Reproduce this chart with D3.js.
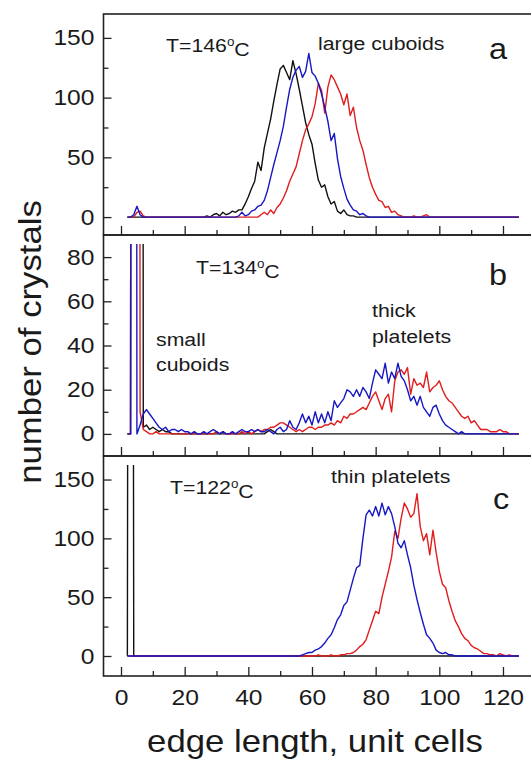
<!DOCTYPE html>
<html>
<head>
<meta charset="utf-8">
<script src="https://cdn.jsdelivr.net/npm/d3@7"></script>
<style>
  body { margin: 0; background: #fff; }
  svg { display: block; }
  text { font-family: "Liberation Sans", Arial, sans-serif; fill: #1a1a1a; }
</style>
</head>
<body>
<svg id="chart" width="531" height="761"></svg>
<script>
// ---- data: counts per edge length bin (x = 2..125), zero outside the listed run ----
const OFF = 2000; // spikes that run off the top of the plot

// panel a, T=146 C
const aBlackFrom = 26;
const aBlack = [0,1,0,2,3,1,4,2,3,5,4,6,6,11,17,24,30,46,39,58,70,82,97,111,124,127,121,115,131,120,
  107,93,79,69,61,45,31,25,27,17,11,13,5,3,6,2,1,1,0];
const aRedFrom = 4;
const aRed = [0,4,5,1,0,0,0,0,0,0,0,0,0,0,0,0,0,0,0,0,0,0,0,0,0,0,0,0,0,0,0,0,0,0,0,0,0,0,0,
  0,2,4,2,6,3,8,11,16,22,30,36,42,53,64,73,78,84,95,112,106,87,109,119,115,109,103,94,103,85,92,
  75,64,56,44,33,25,19,14,13,8,9,4,5,2,1,0,0,0,1,0,0,1,2,0];
const aBlueFrom = 3;
const aBlue = [0,2,9,2,0,0,0,0,0,0,0,0,0,0,0,0,0,0,0,0,0,0,0,0,0,0,0,0,0,0,0,0,0,0,
  1,4,1,2,5,6,9,10,14,22,33,44,54,64,76,92,107,117,123,126,117,122,137,121,118,112,103,92,80,64,70,
  49,34,24,15,10,6,5,2,3,1,0];

// panel b, T=134 C
const bBlackFrom = 2;
const bBlack = [0,0,OFF,OFF,OFF,3,4,2,3,2,1,2,1,1,0,0,0,0,0,0,0,0,0,0,0,0,0,0,0,0,0,0,0,0,0,0,0,0,0,0,0,0,0,0,1,2,1,0];
const bRedFrom = 2;
const bRed = [0,0,OFF,OFF,10,2,1,0,0,1,0,0,0,0,0,0,0,0,0,0,0,0,0,0,0,0,0,0,1,0,1,0,0,0,0,0,1,0,1,0,
  1,2,1,2,2,3,3,4,5,5,4,3,2,1,2,1,2,3,3,2,3,3,4,4,5,4,6,5,8,7,9,9,10,11,12,11,14,17,19,15,11,16,18,10,
  24,28,29,27,30,18,25,22,23,21,28,19,21,22,24,20,17,15,14,12,10,8,7,8,5,6,4,2,2,2,1,1,1,2,1,1,0];
const bBlueFrom = 2;
const bBlue = [0,0,OFF,0,4,9,11,9,7,5,3,2,3,1,2,2,1,2,1,1,0,1,0,0,1,0,1,2,1,0,1,0,0,1,0,1,2,1,1,2,
  1,2,1,1,2,1,0,2,3,1,2,6,3,2,5,9,5,8,4,10,5,9,5,10,6,15,12,14,16,20,19,17,20,17,21,19,16,23,29,27,
  25,32,23,28,25,32,26,24,20,15,17,13,17,12,10,8,12,13,9,6,4,3,2,1,0,1,0];

// panel c, T=122 C
const cBlackFrom = 2;
const cBlack = [0,OFF,0];
const cRedFrom = 60;
const cRed = [0,0,1,0,0,0,1,0,0,1,1,2,2,3,5,8,10,14,22,30,38,36,50,61,72,84,106,100,117,130,125,118,
  121,138,110,98,104,86,107,88,72,61,58,47,38,30,25,19,15,13,9,7,6,4,2,2,1,1,0,2,1,0,1,0];
const cBlueFrom = 57;
const cBlue = [1,2,3,3,5,6,8,11,15,18,24,31,35,43,46,56,66,75,77,100,120,124,119,127,119,130,120,
  127,121,110,96,92,98,86,75,60,48,37,27,18,15,11,5,3,2,3,1,1,0];

const xTicks = [0, 20, 40, 60, 80, 100, 120];
const xMinor = [10, 30, 50, 70, 90, 110];
const abTicks = [0, 50, 100, 150], abMinor = [25, 75, 125];
const bTicks = [0, 20, 40, 60, 80], bMinor = [10, 30, 50, 70];
const temps = ["146", "134", "122"];
const letters = ["a", "b", "c"];

// ---- layout ----
const stretch = 1.12; // the original lettering is a little wider than Arial
const colors = { black: "#111", red: "#e11d1d", blue: "#1717c4" };
const svg = d3.select("#chart");

const x = d3.scaleLinear().domain([-5.5, 131]).range([103.5, 538]);

function full(from, vals) {
  return d3.range(2, 126).map(k => ({ x: k, v: (k >= from && k - from < vals.length) ? vals[k - from] : 0 }));
}

function txt(g, str, px, py, size, anchor) {
  return g.append("text")
    .attr("transform", `translate(${px},${py}) scale(${stretch},1)`)
    .attr("font-size", size)
    .attr("text-anchor", anchor || "start")
    .text(str);
}

function tempLabel(g, t, px, py) {
  const el = g.append("text")
    .attr("transform", `translate(${px},${py}) scale(${stretch},1)`)
    .attr("font-size", 19);
  el.append("tspan").text("T=" + t);
  el.append("tspan").attr("dy", "-0.5em").attr("font-size", 12).text("o");
  el.append("tspan").attr("dy", "0.5em").text("C");
}

const panels = [
  { top: 14, bottom: 235, dom: [-15, 170], major: abTicks, minor: abMinor,
    series: [[aBlackFrom, aBlack, "black"], [aRedFrom, aRed, "red"], [aBlueFrom, aBlue, "blue"]] },
  { top: 235, bottom: 456, dom: [-10, 90], major: bTicks, minor: bMinor,
    series: [[bBlackFrom, bBlack, "black"], [bRedFrom, bRed, "red"], [bBlueFrom, bBlue, "blue"]] },
  { top: 456, bottom: 676, dom: [-17, 170], major: abTicks, minor: abMinor,
    series: [[cBlackFrom, cBlack, "black"], [cRedFrom, cRed, "red"], [cBlueFrom, cBlue, "blue"]] }
];

panels.forEach((p, i) => {
  const y = d3.scaleLinear().domain(p.dom).range([p.bottom, p.top]);
  const g = svg.append("g");

  // clip: spikes stop a little below the frame top
  const clipId = "clip" + i;
  svg.append("clipPath").attr("id", clipId)
    .append("rect").attr("x", 103.5).attr("y", p.top + 9)
    .attr("width", 430).attr("height", p.bottom - p.top - 9);

  const line = d3.line().x(d => x(d.x)).y(d => y(d.v));
  const lines = g.append("g").attr("clip-path", `url(#${clipId})`);
  p.series.forEach(([from, vals, c]) => {
    lines.append("path")
      .datum(full(from, vals))
      .attr("d", line)
      .attr("fill", "none")
      .attr("stroke", colors[c])
      .attr("stroke-width", 1.4)
      .attr("stroke-linejoin", "round");
  });

  // y axis, ticks inside
  const yAx = g.append("g").attr("transform", "translate(103.5,0)")
    .call(d3.axisLeft(y).tickValues(p.major).tickSize(-8).tickPadding(9));
  yAx.selectAll("text")
    .attr("x", -9 / stretch)
    .attr("transform", `scale(${stretch},1)`)
    .attr("font-size", 22).attr("fill", "#1a1a1a");
  g.append("g").attr("transform", "translate(103.5,0)")
    .call(d3.axisLeft(y).tickValues(p.minor).tickSize(-5).tickFormat(""));

  // x axis, ticks inside
  const xAx = g.append("g").attr("transform", `translate(0,${p.bottom})`)
    .call(d3.axisBottom(x).tickValues(xTicks).tickSize(-9).tickPadding(13));
  xAx.selectAll("text")
    .attr("transform", `scale(${stretch},1)`)
    .attr("font-size", 22).attr("fill", "#1a1a1a");
  if (i < 2) xAx.selectAll("text").remove();
  g.append("g").attr("transform", `translate(0,${p.bottom})`)
    .call(d3.axisBottom(x).tickValues(xMinor).tickSize(-5).tickFormat(""));

  g.selectAll(".domain").remove();
  g.selectAll(".tick line").attr("stroke", "#222").attr("stroke-width", 1.3);

  // frame
  g.append("rect")
    .attr("x", 103.5).attr("y", p.top)
    .attr("width", 440).attr("height", p.bottom - p.top)
    .attr("fill", "none").attr("stroke", "#222").attr("stroke-width", 1.6);
});

// ---- annotations ----
const ann = svg.append("g");
tempLabel(ann, temps[0], 166, 52);
txt(ann, "large cuboids", 318, 50, 19);
txt(ann, letters[0], 489, 59, 29);

tempLabel(ann, temps[1], 196, 274);
txt(ann, letters[1], 489, 285, 29);
txt(ann, "small", 156, 346, 19);
txt(ann, "cuboids", 156, 371, 19);
txt(ann, "thick", 372, 317, 19);
txt(ann, "platelets", 372, 343, 19);

tempLabel(ann, temps[2], 170, 494);
txt(ann, "thin platelets", 331, 483, 19);
txt(ann, letters[2], 493, 509, 29);

// axis titles
txt(ann, "edge length, unit cells", 315, 752, 31, "middle");
ann.append("text")
  .attr("transform", `translate(41,342) rotate(-90) scale(${stretch},1)`)
  .attr("font-size", 31)
  .attr("text-anchor", "middle")
  .text("number of crystals");
</script>
</body>
</html>
